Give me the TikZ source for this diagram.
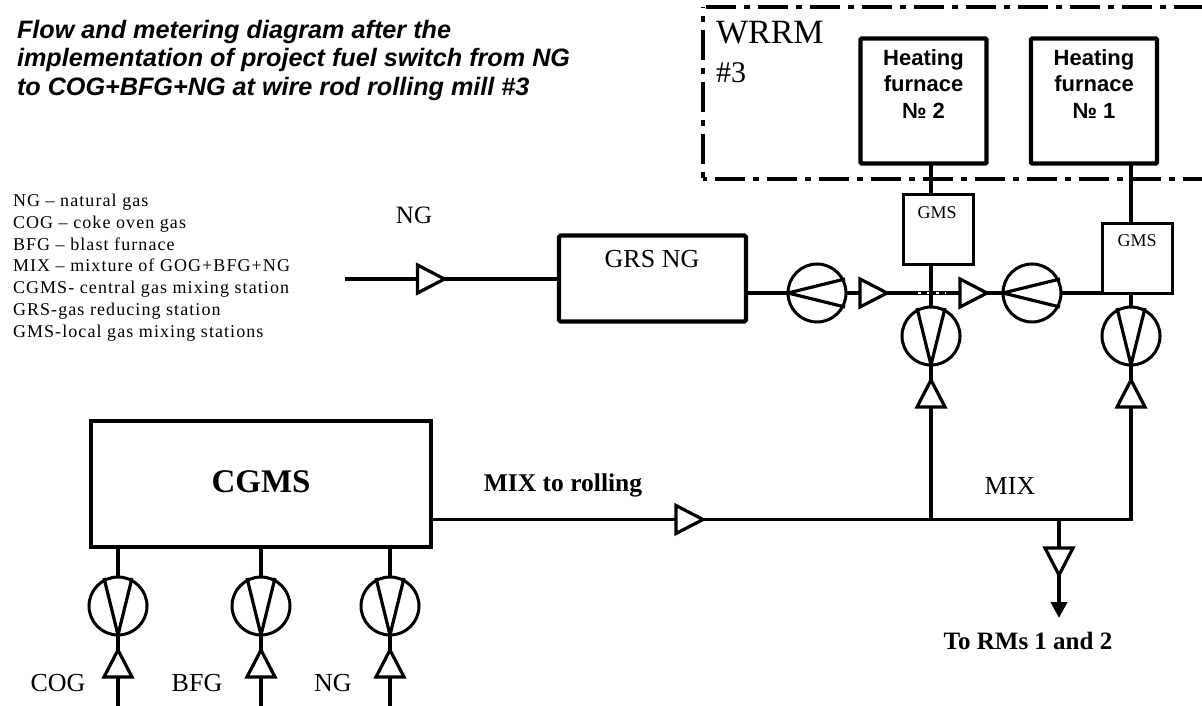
\documentclass[tikz,border=0pt]{standalone}
\usepackage{fontspec}
\setmainfont{Liberation Serif}
\setsansfont{Liberation Sans}
\newfontfamily\legfont[LetterSpace=6]{Liberation Serif}
\usetikzlibrary{arrows.meta,shapes.geometric}
\tikzset{
  every node/.append style={outer sep=0pt},
  pipe/.style    = {draw=black, line width=3.2pt},
  pipegap/.style = {draw=white, line width=1.2pt, dash pattern=on 3pt off 6pt},
  bnd/.style     = {draw=black, line width=4pt, dash pattern=on 30pt off 8pt on 6pt off 8pt},
  fur/.style     = {draw=black, line width=4.2pt, fill=white, minimum width=126pt, minimum height=125pt,
                    inner sep=0pt, rounded corners=1pt},
  furlab/.style  = {inner sep=0pt, font=\sffamily\bfseries\fontsize{22}{26.5}\selectfont, align=center},
  gmsbox/.style  = {draw=black, line width=3pt, fill=white, minimum width=70pt, minimum height=70pt, inner sep=0pt},
  grsbox/.style  = {draw=black, line width=4.2pt, fill=white, inner sep=0pt, rounded corners=1.5pt},
  trir/.style    = {isosceles triangle, isosceles triangle stretches, draw=black, line width=3.2pt, fill=white,
                    minimum height=27pt, minimum width=28pt, inner sep=0pt, anchor=apex},
  triu/.style    = {trir, shape border rotate=90},
  trid/.style    = {trir, shape border rotate=-90},
  mtrv/.style    = {circle, draw=black, line width=3pt, minimum size=58pt, inner sep=0pt,
                    append after command={(\tikzlastnode.south) edge[pipe] ++(-14,-57)
                                          (\tikzlastnode.south) edge[pipe] ++(14,-57)}},
  mtrh/.style    = {circle, draw=black, line width=3pt, minimum size=58pt, inner sep=0pt,
                    append after command={(\tikzlastnode.west) edge[pipe] ++(57,-14)
                                          (\tikzlastnode.west) edge[pipe] ++(57,14)}},
  lab/.style     = {inner sep=0pt, font=\fontsize{26}{30}\selectfont},
  leg/.style     = {inner sep=0pt, anchor=north west, align=left, font=\legfont\fontsize{18}{21.8}\selectfont},
}
\begin{document}
\begin{tikzpicture}[x=1pt,y=-1pt]
  \useasboundingbox (0,0) rectangle (1202,706);

  % texts
  \node[inner sep=0pt, anchor=north west, align=left, font=\sffamily\bfseries\itshape\fontsize{25.2}{28.5}\selectfont]
    (title) at (17,20) {Flow and metering diagram after the\\
      implementation of project fuel switch from NG\\
      to COG+BFG+NG at wire rod rolling mill \#3};
  \node[leg] (legend) at (13,194) {NG – natural gas\\COG – coke oven gas\\BFG – blast furnace\\
    MIX – mixture of GOG+BFG+NG\\CGMS- central gas mixing station\\GRS-gas reducing station\\GMS-local gas mixing stations};
  \node[lab, anchor=west, font=\fontsize{34}{36}\selectfont] (wrrm) at (716,33) {WRRM};
  \node[lab, anchor=west, font=\fontsize{30}{34}\selectfont] (wrrmno) at (716,73) {\#3};
  \node[lab, font=\fontsize{25}{28}\selectfont] (lng) at (414,215) {NG};
  \node[lab, font=\fontsize{25.5}{28}\selectfont\bfseries] (lmixr) at (563,485) {MIX to rolling};
  \node[lab] (lmix) at (1010,486) {MIX};
  \node[lab, font=\fontsize{25}{28}\selectfont\bfseries] (lrms) at (1028,641) {To RMs 1 and 2};
  \node[lab] (lcog) at (58,683) {COG};
  \node[lab] (lbfg) at (197,683) {BFG};
  \node[lab] (lng3) at (333,683) {NG};

  % WRRM boundary
  \coordinate (wTL) at (703,7);
  \coordinate (wTR) at (1202,7);
  \coordinate (wBL) at (703,179);
  \coordinate (wBR) at (1202,179);
  \draw[bnd] (wTL) ++(3,0) -- (wTR);
  \draw[bnd, dash phase=29pt] (wTL) -- (wBL);
  \draw[bnd, dash phase=40pt] (wBL) -- (wBR);

  % boxes
  \node[fur] (fur2) at (923.5,101) {};
  \node[fur] (fur1) at (1094,101) {};
  \node[furlab] (lfur2) at (923.5,84) {Heating\\furnace\\№ 2};
  \node[furlab] (lfur1) at (1094,84) {Heating\\furnace\\№ 1};
  \node[gmsbox] (gms2) at (938,229) {};
  \node[gmsbox] (gms1) at (1137.5,258) {};
  \node[lab, font=\fontsize{18}{20}\selectfont] (lgms2) at (937,213) {GMS};
  \node[lab, font=\fontsize{18}{20}\selectfont] (lgms1) at (1137,241) {GMS};
  \node[grsbox, minimum width=187pt, minimum height=86pt] (grs) at (652.5,278.5) {};
  \node[lab] (lgrs) at (652,259) {GRS NG};
  \node[grsbox, line width=4.4pt, rounded corners=0pt, minimum width=340pt, minimum height=126pt] (cgms) at (261,484) {};
  \node[lab, font=\fontsize{33}{36}\selectfont\bfseries] (lcgms) at (261,482) {CGMS};

  % meters
  \node[mtrh] (mh2) at (817,293) {};
  \node[mtrh] (mh1) at (1032,293) {};
  \node[mtrv] (mv2) at (931,336) {};
  \node[mtrv] (mv1) at (1131,336) {};
  \node[mtrv] (mcog) at (118,606) {};
  \node[mtrv] (mbfg) at (261,606) {};
  \node[mtrv] (mng) at (390,606) {};

  % triangles
  \node[trir] (tin) at (444.5,279) {};
  \node[trir] (th2) at (887,293) {};
  \node[trir] (th1) at (987,293) {};
  \node[trir] (tmix) at (703,519.5) {};
  \node[triu] (tv2) at (931,380) {};
  \node[triu] (tv1) at (1131,380) {};
  \node[triu] (tcog) at (118,650) {};
  \node[triu] (tbfg) at (261,650) {};
  \node[triu] (tng) at (390,650) {};
  \node[trid] (trm) at (1059,575) {};

  \coordinate (ngin) at (345,279);
  \coordinate (gapa) at (918,293);
  \coordinate (gapb) at (946,293);
  \coordinate (jv2) at (931,519.5);
  \coordinate (jrm) at (1059,519.5);
  \coordinate (jv1) at (1131,519.5);
  \coordinate (rmend) at (1059,618);
  \coordinate (incog) at (118,706);
  \coordinate (inbfg) at (261,706);
  \coordinate (inng) at (390,706);

  % NG line
  \draw[pipe] (ngin) -- (tin.lower side);
  \draw[pipe] (tin.apex) -- (grs.west |- tin.apex);
  \draw[pipe] (grs.east |- mh2) -- (mh2.west);
  \draw[pipe] (mh2.east) -- (th2.lower side);
  \draw[pipe] (th2.apex) -- (th1.lower side);
  \draw[pipegap] (gapa) -- (gapb);
  \draw[pipe] (th1.apex) -- (mh1.west);
  \draw[pipe] (mh1.east) -- (gms1.south west |- mh1);

  % to furnaces
  \draw[pipe] (fur2.south -| mv2) -- (gms2.north -| mv2);
  \draw[pipe] (fur1.south -| mv1) -- (gms1.north -| mv1);
  \draw[pipe] (gms2.south -| mv2) -- (mv2.north);
  \draw[pipe] (gms1.south -| mv1) -- (mv1.north);
  \draw[pipe] (mv2.south) -- (tv2.apex);
  \draw[pipe] (mv1.south) -- (tv1.apex);

  % MIX line
  \draw[pipe] (cgms.east |- tmix.lower side) -- (tmix.lower side);
  \draw[pipe] (tmix.apex) -- (jv1) -- (tv1.lower side);
  \draw[pipe] (jv2) -- (tv2.lower side);
  \draw[pipe, line width=4pt] (jrm) -- (trm.lower side);
  \draw[pipe, line width=4pt, -{Triangle[length=16pt,width=16pt]}] (trm.apex) -- (rmend);

  % gas inlets
  \foreach \mtr/\tri/\inl in {mcog/tcog/incog, mbfg/tbfg/inbfg, mng/tng/inng} {
    \draw[pipe] (cgms.south -| \mtr) -- (\mtr.north);
    \draw[pipe] (\mtr.south) -- (\tri.apex);
    \draw[pipe] (\tri.lower side) -- (\inl);
  }
\end{tikzpicture}
\end{document}
